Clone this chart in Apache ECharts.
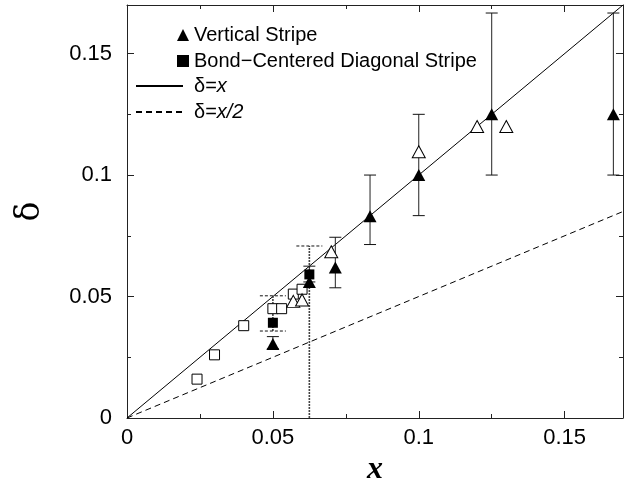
<!DOCTYPE html>
<html>
<head>
<meta charset="utf-8">
<script src="https://cdn.jsdelivr.net/npm/echarts@6/dist/echarts.min.js"></script>
<style>
html,body{margin:0;padding:0;background:#fff;}
#chart{width:643px;height:481px;}
</style>
</head>
<body>
<div id="chart"></div>
<script>
// ---- data ----
var xTickLabels = [0, 0.05, 0.1, 0.15];
var yTickLabels = [0, 0.05, 0.1, 0.15];
var minorTicks = [0.025, 0.075, 0.125];

// Vertical stripe (filled triangles) with error bars
var vsX    = [0.05,   0.0625, 0.0714, 0.0833, 0.1,    0.125,  0.1667];
var vsY    = [0.0305, 0.056,  0.062,  0.083,  0.100,  0.125,  0.125];
var vsLow  = [0.0285, 0.056,  0.0536, 0.0714, 0.0833, 0.100,  0.100];
var vsHigh = [0.0335, 0.0625, 0.0744, 0.100,  0.125,  0.1667, 0.1667];

// Bond-centered diagonal stripe (filled squares) with dotted error bars
var bcX    = [0.05,   0.0625];
var bcY    = [0.0392, 0.0591];
var bcLow  = [0.0358, 0];
var bcHigh = [0.0503, 0.0708];

// Open triangles
var otX = [0.057, 0.060,  0.070,  0.100,  0.120, 0.130];
var otY = [0.048, 0.0486, 0.0684, 0.1096, 0.120, 0.120];

// Open squares
var osX = [0.024, 0.030, 0.040, 0.050, 0.053, 0.057, 0.060];
var osY = [0.016, 0.026, 0.038, 0.045, 0.045, 0.051, 0.053];

// Reference lines
var lineX  = [0, 0.17];
var lineY1 = [0, 0.17];   // delta = x
var lineY2 = [0, 0.085];  // delta = x/2

var AXMAX = 0.17;

function zip(a, b) { return a.map(function (v, i) { return [v, b[i]]; }); }
function zip3(a, b, c) { return a.map(function (v, i) { return [v, b[i], c[i]]; }); }

function errRender(dotted, capHalf) {
  return function (params, api) {
    var x = api.value(0), lo = api.value(1), hi = api.value(2);
    var pLo = api.coord([x, lo]);
    var pHi = api.coord([x, hi]);
    var vStyle = dotted
      ? { stroke: '#444', lineWidth: 1.6, lineDash: [2, 1] }
      : { stroke: '#222', lineWidth: 1 };
    var cStyle = dotted
      ? { stroke: '#111', lineWidth: 1, lineDash: [3, 2] }
      : { stroke: '#111', lineWidth: 1 };
    var children = [
      { type: 'line', shape: { x1: pLo[0], y1: pLo[1], x2: pHi[0], y2: pHi[1] }, style: vStyle }
    ];
    if (lo > 0.0001 && Math.abs(pLo[1] - pHi[1]) > 0.5) {
      children.push({ type: 'line', shape: { x1: pLo[0] - capHalf, y1: pLo[1], x2: pLo[0] + capHalf, y2: pLo[1] }, style: cStyle });
    }
    children.push({ type: 'line', shape: { x1: pHi[0] - capHalf, y1: pHi[1], x2: pHi[0] + capHalf, y2: pHi[1] }, style: cStyle });
    return { type: 'group', children: children };
  };
}

var FONT = 'Liberation Sans, Arial, Helvetica, sans-serif';
var axisLineStyle = { color: '#222', width: 1 };

function makeX(pos, ticks, len, showLine, showLabel, extra) {
  var o = {
    type: 'value', min: 0, max: AXMAX, position: pos,
    axisLine: { show: showLine, onZero: false, lineStyle: axisLineStyle },
    axisTick: { show: true, inside: true, length: len, customValues: ticks, lineStyle: { color: '#222', width: 1 } },
    axisLabel: { show: showLabel, customValues: ticks, margin: 9, fontSize: 22, color: '#000', fontFamily: FONT },
    splitLine: { show: false }
  };
  if (extra) for (var k in extra) o[k] = extra[k];
  return o;
}
function makeY(pos, ticks, len, showLine, showLabel, extra) {
  var o = {
    type: 'value', min: 0, max: AXMAX, position: pos,
    axisLine: { show: showLine, onZero: false, lineStyle: axisLineStyle },
    axisTick: { show: true, inside: true, length: len, customValues: ticks, lineStyle: { color: '#222', width: 1 } },
    axisLabel: { show: showLabel, customValues: ticks, margin: 15, fontSize: 22, color: '#000', fontFamily: FONT },
    splitLine: { show: false }
  };
  if (extra) for (var k in extra) o[k] = extra[k];
  return o;
}

var chart = echarts.init(document.getElementById('chart'), null, { renderer: 'canvas' });

var option = {
  backgroundColor: '#fff',
  animation: false,
  grid: { left: 127, right: 20, top: 5, bottom: 63, containLabel: false, outerBoundsMode: 'none' },
  xAxis: [
    makeX('bottom', xTickLabels, 7, true, true, {
      name: 'x', nameLocation: 'middle', nameGap: 29,
      nameTextStyle: { fontFamily: 'Liberation Serif, Times New Roman, serif', fontStyle: 'italic', fontWeight: 'bold', fontSize: 32, color: '#000' }
    }),
    makeX('bottom', minorTicks, 4, false, false),
    makeX('top', xTickLabels, 7, true, false),
    makeX('top', minorTicks, 4, false, false)
  ],
  yAxis: [
    makeY('left', yTickLabels, 7, true, true, {
      name: 'δ', nameLocation: 'middle', nameGap: 80,
      nameTextStyle: { fontFamily: 'DejaVu Serif, Liberation Serif, serif', fontSize: 33, color: '#000' }
    }),
    makeY('left', minorTicks, 4, false, false),
    makeY('right', yTickLabels, 7, true, false),
    makeY('right', minorTicks, 4, false, false)
  ],
  legend: [
    {
      data: [
        { name: 'Vertical Stripe', icon: 'triangle' },
        { name: 'Bond−Centered Diagonal Stripe', icon: 'rect' }
      ],
      orient: 'vertical', left: 177, top: 25, padding: 0,
      itemWidth: 12, itemHeight: 12, itemGap: 6,
      textStyle: { fontSize: 20, fontFamily: FONT, color: '#000' },
      selectedMode: false
    },
    {
      data: ['δ=x', 'δ=x/2'],
      orient: 'vertical', left: 135, top: 76, padding: 0,
      itemWidth: 47, itemHeight: 12, itemGap: 6,
      itemStyle: { opacity: 0 },
      formatter: function (name) {
        return name === 'δ=x' ? '{a|δ=}{i|x}' : '{a|δ=}{i|x/2}';
      },
      textStyle: {
        fontSize: 20, fontFamily: FONT, color: '#000',
        rich: {
          a: { fontSize: 20, fontFamily: FONT, color: '#000', padding: [0, 0, 0, 6] },
          i: { fontSize: 20, fontFamily: FONT, fontStyle: 'italic', color: '#000' }
        }
      },
      selectedMode: false
    }
  ],
  series: [
    {
      name: 'δ=x', type: 'line', data: zip(lineX, lineY1),
      symbol: 'none', lineStyle: { color: '#000', width: 1 }, itemStyle: { color: '#000' }, z: 1
    },
    {
      name: 'δ=x/2', type: 'line', data: zip(lineX, lineY2),
      symbol: 'none', lineStyle: { color: '#000', width: 1, type: [6, 4] }, itemStyle: { color: '#000' }, z: 1
    },
    {
      name: 'bcErr', type: 'custom', data: zip3(bcX, bcLow, bcHigh),
      renderItem: errRender(true, 13), z: 2, silent: true
    },
    {
      name: 'vsErr', type: 'custom', data: zip3(vsX, vsLow, vsHigh),
      renderItem: errRender(false, 6), z: 2, silent: true
    },
    {
      name: 'openSquares', type: 'scatter', data: zip(osX, osY),
      symbol: 'rect', symbolSize: 10,
      itemStyle: { color: '#fff', borderColor: '#000', borderWidth: 1, opacity: 1 }, z: 3
    },
    {
      name: 'openTriangles', type: 'scatter', data: zip(otX, otY),
      symbol: 'triangle', symbolSize: [13, 12],
      itemStyle: { color: '#fff', borderColor: '#000', borderWidth: 1, opacity: 1 }, z: 3
    },
    {
      name: 'Bond−Centered Diagonal Stripe', type: 'scatter', data: zip(bcX, bcY),
      symbol: 'rect', symbolSize: 10,
      itemStyle: { color: '#000', opacity: 1 }, z: 4
    },
    {
      name: 'Vertical Stripe', type: 'scatter', data: zip(vsX, vsY),
      symbol: 'triangle', symbolSize: [13, 12],
      itemStyle: { color: '#000', opacity: 1 }, z: 4
    }
  ]
};
chart.setOption(option);
</script>
</body>
</html>
